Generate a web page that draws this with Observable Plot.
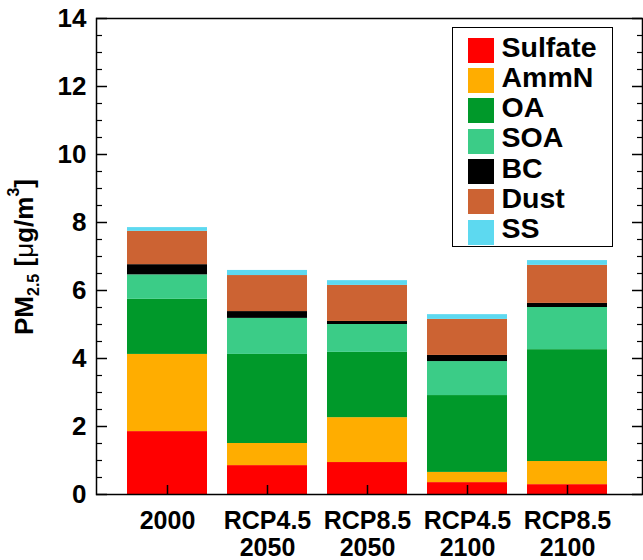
<!DOCTYPE html>
<html><head><meta charset="utf-8">
<script src="https://cdn.jsdelivr.net/npm/d3@7"></script>
<script src="https://cdn.jsdelivr.net/npm/@observablehq/plot@0.6"></script>
<style>
body{margin:0;background:#fff;font-family:"Liberation Sans",Arial,Helvetica,sans-serif;}
#wrap{position:relative;width:643px;height:560px;}
#legend{position:absolute;left:452px;top:27px;width:161px;height:220px;border:1.5px solid #000;background:#fff;box-sizing:border-box;}
.row{position:absolute;left:14.5px;height:30px;}
.sw{position:absolute;left:0;top:0;width:26px;height:25px;}
.lab{position:absolute;left:34px;top:-6.3px;line-height:30px;font-size:28.5px;font-weight:bold;color:#000;white-space:nowrap;}
</style></head>
<body><div id="wrap"></div>
<script>
const categories = ["2000","RCP4.5\n2050","RCP8.5\n2050","RCP4.5\n2100","RCP8.5\n2100"];
const species = ["Sulfate","AmmN","OA","SOA","BC","Dust","SS"];
const colors = ["#ff0000","#ffad00","#00992a","#3bcc87","#000000","#cc6333","#5dd9f0"];
const sulfate = [1.85, 0.85, 0.94, 0.35, 0.29];
const ammN    = [2.27, 0.65, 1.32, 0.30, 0.68];
const oa      = [1.62, 2.62, 1.92, 2.26, 3.29];
const soa     = [0.72, 1.06, 0.82, 1.00, 1.24];
const bc      = [0.30, 0.20, 0.09, 0.18, 0.12];
const dust    = [0.98, 1.06, 1.06, 1.06, 1.12];
const ss      = [0.11, 0.15, 0.14, 0.14, 0.14];
const yMajorTicks = [0,2,4,6,8,10,12,14];
const yMinorTicks = [0.5,1,1.5,2.5,3,3.5,4.5,5,5.5,6.5,7,7.5,8.5,9,9.5,10.5,11,11.5,12.5,13,13.5];

const series = [sulfate, ammN, oa, soa, bc, dust, ss];
const table = [];
categories.forEach((c, i) => {
  species.forEach((s, j) => table.push({scenario: c, species: s, value: series[j][i]}));
});

const W = 643, H = 560, mL = 96, mR = 1, mT = 18, mB = 66;
const fw = W - mL - mR, fh = H - mT - mB;
const font = '"Liberation Sans", Arial, Helvetica, sans-serif';

const chart = Plot.plot({
  width: W, height: H,
  marginLeft: mL, marginRight: mR, marginTop: mT, marginBottom: mB,
  style: {fontFamily: font, fontSize: "26px", fontWeight: "bold", color: "#000", background: "#fff"},
  x: {domain: categories, range: [117, 617], paddingInner: 0.2, paddingOuter: 0.1, label: null},
  y: {domain: [0, 14], label: null},
  color: {domain: species, range: colors},
  marks: [
    Plot.barY(table, {x: "scenario", y: "value", fill: "species"}),
    Plot.ruleY(yMajorTicks, {y: d => d, insetRight: fw - 11, stroke: "#000", strokeWidth: 1.5}),
    Plot.ruleY(yMinorTicks, {y: d => d, insetRight: fw - 6, stroke: "#000", strokeWidth: 1.2}),
    Plot.ruleY(yMajorTicks, {y: d => d, insetLeft: fw - 10, stroke: "#000", strokeWidth: 1.5}),
    Plot.ruleY(yMinorTicks, {y: d => d, insetLeft: fw - 5, stroke: "#000", strokeWidth: 1.2}),
    Plot.ruleX(categories, {x: d => d, insetTop: fh - 9, stroke: "#000", strokeWidth: 1.5}),
    Plot.frame({stroke: "#000", strokeWidth: 1.5}),
    Plot.axisY({ticks: yMajorTicks, tickSize: 0, tickPadding: 10, label: null, fontSize: 26, fontWeight: "bold"}),
    Plot.axisX({tickSize: 0, tickPadding: 15, label: null, fontSize: 25, fontWeight: "bold", lineHeight: 1.08})
  ]
});

const svg = d3.select(chart);
const t = svg.append("text")
  .attr("transform", "translate(33,257) rotate(-90)")
  .attr("text-anchor", "middle")
  .attr("font-family", font)
  .attr("font-size", 26)
  .attr("font-weight", "bold")
  .attr("fill", "#000");
t.append("tspan").text("PM");
t.append("tspan").attr("font-size", 16).attr("dy", 6).text("2.5");
t.append("tspan").attr("dy", -6).text(" [");
t.append("tspan").attr("font-weight", "normal").text("μ");
t.append("tspan").text("g/m");
t.append("tspan").attr("font-size", 16).attr("dy", -14).text("3");
t.append("tspan").attr("dy", 14).text("]");

const wrap = document.getElementById("wrap");
wrap.appendChild(chart);

const legend = document.createElement("div");
legend.id = "legend";
species.forEach((s, i) => {
  const row = document.createElement("div");
  row.className = "row";
  row.style.top = (9.8 + 30.3 * i) + "px";
  const sw = document.createElement("div");
  sw.className = "sw";
  sw.style.background = colors[i];
  const lab = document.createElement("div");
  lab.className = "lab";
  lab.textContent = s;
  row.appendChild(sw);
  row.appendChild(lab);
  legend.appendChild(row);
});
wrap.appendChild(legend);
</script>
</body></html>
